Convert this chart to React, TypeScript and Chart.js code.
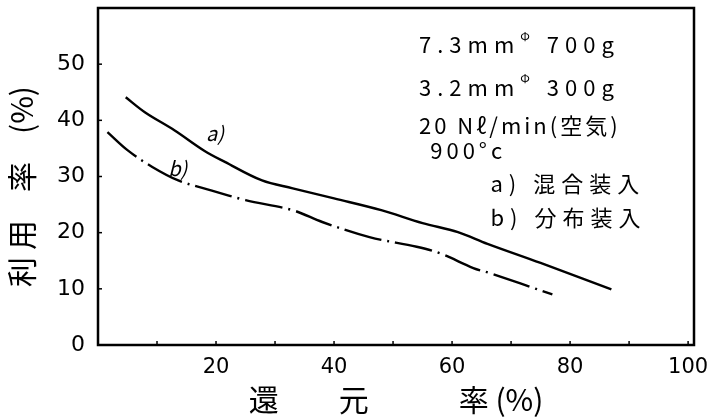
import React, { useEffect, useRef } from "react";
import { Chart, registerables } from "chart.js";

Chart.register(...registerables);

const seriesAX = [4.7, 8, 13, 18, 21.5, 27.8, 33, 40, 48, 55, 61, 66, 75, 87];
const seriesAY = [44.1, 41.4, 38.2, 34.6, 32.6, 29.3, 27.9, 26.1, 24.0, 21.7, 20.1, 18.0, 14.6, 9.9];
const seriesBX = [1.6, 5.1, 9.2, 13.6, 19.3, 25, 33, 38, 46, 54, 58, 63.6, 66.4, 77];
const seriesBY = [37.9, 34.6, 31.7, 29.3, 27.5, 25.8, 24.0, 21.9, 19.2, 17.5, 16.3, 13.7, 12.8, 9.0];

const xTickValues = [0, 10, 20, 30, 40, 50, 60, 70, 80, 90, 100];
const xTickLabels = ["", "", "20", "", "40", "", "60", "", "80", "", "100"];
const yTickValues = [0, 10, 20, 30, 40, 50, 60];
const yTickLabels = ["0", "10", "20", "30", "40", "50", ""];

const xTitle = "還\u3000\u3000元\u3000\u3000\u3000率 (%)";
const yTitleParts = ["利", "用", "率", "(%)"];
const curveLabelA = "a)";
const curveLabelB = "b)";
const noteLines = ["7.3mm|Φ| 700g", "3.2mm|Φ| 300g", "20 Nℓ/min(空気)", "900°c", "a) 混合装入", "b) 分布装入"];

const FONT = "'Noto Sans CJK JP', 'DejaVu Sans', sans-serif";
const NUMFONT = "'DejaVu Sans', sans-serif";

export default function App() {
  const ref = useRef<HTMLCanvasElement | null>(null);

  useEffect(() => {
    if (!ref.current) return;
    const decor = {
      id: "decor",
      afterDraw(chart: any) {
        const { ctx, chartArea, scales } = chart;
        const xs = scales.x;
        const ys = scales.y;
        ctx.save();
        // frame
        ctx.strokeStyle = "#000";
        ctx.lineWidth = 2.5;
        ctx.strokeRect(chartArea.left, chartArea.top, chartArea.right - chartArea.left, chartArea.bottom - chartArea.top);
        // inward ticks
        ctx.lineWidth = 1.5;
        xTickValues.forEach((v) => {
          if (v === 0) return;
          const px = xs.getPixelForValue(v);
          ctx.beginPath();
          ctx.moveTo(px, chartArea.bottom);
          ctx.lineTo(px, chartArea.bottom - 4);
          ctx.stroke();
        });
        yTickValues.forEach((v) => {
          if (v === 0 || v === 60) return;
          const py = ys.getPixelForValue(v);
          ctx.beginPath();
          ctx.moveTo(chartArea.left, py);
          ctx.lineTo(chartArea.left + 4, py);
          ctx.stroke();
        });
        // y title (rotated, characters spaced as in reference)
        ctx.fillStyle = "#000";
        ctx.font = `30px ${FONT}`;
        ctx.textAlign = "center";
        ctx.textBaseline = "middle";
        ctx.translate(22, 192);
        ctx.rotate(-Math.PI / 2);
        const offs = [-80, -43, 15, 82];
        yTitleParts.forEach((p, i) => ctx.fillText(p, offs[i], 0));
        ctx.restore();

        ctx.save();
        ctx.fillStyle = "#000";
        ctx.textBaseline = "middle";
        ctx.textAlign = "left";
        ctx.font = `italic 20px ${FONT}`;
        ctx.fillText(curveLabelA, xs.getPixelForValue(18.3), ys.getPixelForValue(37.6));
        ctx.fillText(curveLabelB, xs.getPixelForValue(11.9), ys.getPixelForValue(31.4));

        // notes block
        const notePos = [
          [54.4, 53.4],
          [54.4, 45.8],
          [54.4, 39.1],
          [56.3, 34.6],
          [66.5, 28.7],
          [66.5, 22.6],
        ];
        const spacing = ["6px", "6px", "3px", "4px", "6px", "6px"];
        noteLines.forEach((line, i) => {
          let x = xs.getPixelForValue(notePos[i][0]);
          const y = ys.getPixelForValue(notePos[i][1]);
          (ctx as any).letterSpacing = spacing[i];
          const parts = line.split("|");
          parts.forEach((p, j) => {
            if (j % 2 === 1) {
              ctx.font = `12px ${FONT}`;
              ctx.fillText(p, x, y - 9);
              x += ctx.measureText(p).width;
            } else {
              ctx.font = `22px ${FONT}`;
              ctx.fillText(p, x, y);
              x += ctx.measureText(p).width;
            }
          });
        });
        ctx.restore();
      },
    };

    const chart = new Chart(ref.current, {
      type: "line",
      data: {
        datasets: [
          {
            label: "a",
            data: seriesAX.map((x, i) => ({ x, y: seriesAY[i] })),
            borderColor: "#000",
            borderWidth: 2.4,
            pointRadius: 0,
            tension: 0.35,
            fill: false,
          },
          {
            label: "b",
            data: seriesBX.map((x, i) => ({ x, y: seriesBY[i] })),
            borderColor: "#000",
            borderWidth: 2.4,
            borderDash: [38, 6, 2, 6],
            pointRadius: 0,
            tension: 0.35,
            fill: false,
          },
        ],
      },
      options: {
        responsive: false,
        animation: false,
        layout: { padding: { top: 8, right: 28, left: 0, bottom: 0 } },
        plugins: { legend: { display: false }, tooltip: { enabled: false } },
        scales: {
          x: {
            type: "linear",
            min: 0,
            max: 101,
            afterBuildTicks: (s: any) => {
              s.ticks = xTickValues.map((v) => ({ value: v }));
            },
            afterFit: (s: any) => {
              s.height = 73;
              s.paddingLeft = 0;
              s.paddingRight = 0;
            },
            grid: { display: false },
            border: { display: false },
            ticks: {
              autoSkip: false,
              maxRotation: 0,
              padding: 2,
              color: "#000",
              font: { family: NUMFONT, size: 21 },
              callback: (_v: any, i: number) => xTickLabels[i],
            },
            title: {
              display: true,
              text: xTitle,
              color: "#000",
              font: { family: FONT, size: 30 },
              padding: { top: 0, bottom: 0 },
            },
          },
          y: {
            type: "linear",
            min: 0,
            max: 60,
            afterBuildTicks: (s: any) => {
              s.ticks = yTickValues.map((v) => ({ value: v }));
            },
            afterFit: (s: any) => {
              s.width = 98;
              s.paddingTop = 0;
              s.paddingBottom = 0;
            },
            grid: { display: false },
            border: { display: false },
            ticks: {
              autoSkip: false,
              padding: 5,
              color: "#000",
              font: { family: NUMFONT, size: 22 },
              callback: (_v: any, i: number) => yTickLabels[i],
            },
          },
        },
      },
      plugins: [decor],
    } as any);
    return () => chart.destroy();
  }, []);

  return (
    <div style={{ position: "fixed", left: 0, top: 0, width: 722, height: 418, background: "#fff" }}>
      <canvas ref={ref} width={722} height={418} />
    </div>
  );
}
